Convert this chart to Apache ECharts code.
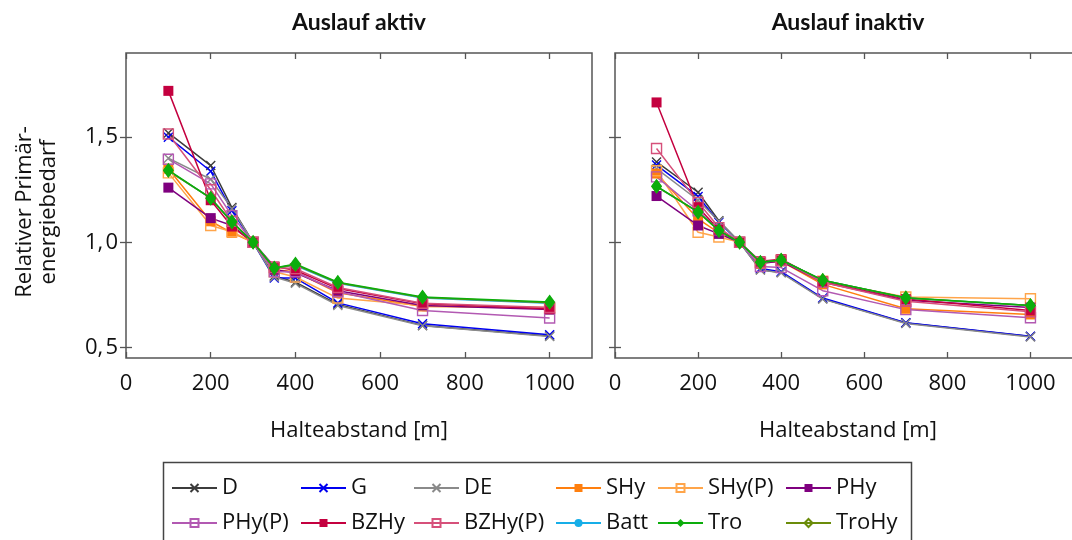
<!DOCTYPE html>
<html>
<head>
<meta charset="utf-8">
<script src="https://cdn.jsdelivr.net/npm/echarts@6/dist/echarts.min.js"></script>
<style>
  html, body { margin: 0; padding: 0; background: #fff; }
  #chart { width: 1072px; height: 540px; }
</style>
</head>
<body>
<div id="chart"></div>
<script>
// Halteabstand in Metern
const halteabstand = [100, 200, 250, 300, 350, 400, 500, 700, 1000];

// Auslauf aktiv
const aktivD      = [1.52, 1.365, 1.165, 1.0, 0.84, 0.81, 0.705, 0.605, 0.555];
const aktivG      = [1.50, 1.338, 1.15, 1.0, 0.83, 0.83, 0.712, 0.613, 0.56];
const aktivDE     = [1.40, 1.30, 1.16, 1.0, 0.835, 0.805, 0.70, 0.603, 0.552];
const aktivSHy    = [1.35, 1.10, 1.045, 1.0, 0.87, 0.86, 0.76, 0.695, 0.69];
const aktivSHyP   = [1.33, 1.08, 1.05, 1.0, 0.86, 0.835, 0.735, 0.70, 0.685];
const aktivPHy    = [1.26, 1.115, 1.08, 1.0, 0.87, 0.855, 0.77, 0.70, 0.68];
const aktivPHyP   = [1.395, 1.278, 1.127, 1.0, 0.86, 0.86, 0.765, 0.676, 0.64];
const aktivBZHy   = [1.72, 1.20, 1.075, 1.0, 0.885, 0.867, 0.78, 0.708, 0.684];
const aktivBZHyP  = [1.515, 1.25, 1.10, 1.0, 0.88, 0.875, 0.785, 0.71, 0.69];
const aktivBatt   = [1.34, 1.21, 1.095, 1.0, 0.88, 0.89, 0.805, 0.735, 0.71];
const aktivTro    = [1.343, 1.21, 1.098, 1.0, 0.878, 0.897, 0.81, 0.74, 0.716];
const aktivTroHy  = [1.34, 1.21, 1.095, 1.0, 0.877, 0.893, 0.808, 0.738, 0.713];

// Auslauf inaktiv
const inaktivD     = [1.382, 1.238, 1.103, 1.0, 0.87, 0.857, 0.732, 0.616, 0.552];
const inaktivG     = [1.367, 1.218, 1.095, 1.0, 0.875, 0.86, 0.735, 0.618, 0.553];
const inaktivDE    = [1.35, 1.20, 1.10, 1.0, 0.868, 0.855, 0.73, 0.614, 0.55];
const inaktivSHy   = [1.327, 1.111, 1.045, 1.0, 0.90, 0.91, 0.80, 0.684, 0.657];
const inaktivSHyP  = [1.34, 1.048, 1.025, 1.0, 0.90, 0.915, 0.815, 0.74, 0.732];
const inaktivPHy   = [1.22, 1.08, 1.04, 1.0, 0.90, 0.91, 0.81, 0.725, 0.69];
const inaktivPHyP  = [1.311, 1.15, 1.06, 1.0, 0.885, 0.88, 0.77, 0.68, 0.641];
const inaktivBZHy  = [1.665, 1.167, 1.06, 1.0, 0.91, 0.92, 0.815, 0.73, 0.676];
const inaktivBZHyP = [1.446, 1.19, 1.07, 1.0, 0.905, 0.915, 0.81, 0.72, 0.67];
const inaktivBatt  = [1.265, 1.145, 1.056, 1.0, 0.905, 0.915, 0.82, 0.735, 0.70];
const inaktivTro   = [1.267, 1.143, 1.056, 1.0, 0.905, 0.916, 0.82, 0.736, 0.70];
const inaktivTroHy = [1.265, 1.145, 1.055, 1.0, 0.905, 0.915, 0.82, 0.735, 0.70];

// Achsenbeschriftung
const xTicks = [0, 200, 400, 600, 800, 1000];
const yTicks = [0.5, 1.0, 1.5];
const panelTitles = ['Auslauf aktiv', 'Auslauf inaktiv'];
const xAxisTitle = 'Halteabstand [m]';
const yAxisTitle = 'Relativer Primär-\nenergiebedarf';

const seriesNames = ['D', 'G', 'DE', 'SHy', 'SHy(P)', 'PHy', 'PHy(P)', 'BZHy', 'BZHy(P)', 'Batt', 'Tro', 'TroHy'];
const aktivValues = [aktivD, aktivG, aktivDE, aktivSHy, aktivSHyP, aktivPHy, aktivPHyP, aktivBZHy, aktivBZHyP, aktivBatt, aktivTro, aktivTroHy];
const inaktivValues = [inaktivD, inaktivG, inaktivDE, inaktivSHy, inaktivSHyP, inaktivPHy, inaktivPHyP, inaktivBZHy, inaktivBZHyP, inaktivBatt, inaktivTro, inaktivTroHy];

const CROSS = 'path://M0,0L10,10M10,0L0,10';
const styles = {
  'D':       { color: '#3c3c3c', symbol: CROSS, size: 9, open: 'cross' },
  'G':       { color: '#0000f0', symbol: CROSS, size: 9, open: 'cross' },
  'DE':      { color: '#8a8a8a', symbol: CROSS, size: 9, open: 'cross' },
  'SHy':     { color: '#ff7f0e', symbol: 'rect', size: 10 },
  'SHy(P)':  { color: '#ffa54a', symbol: 'rect', size: 10, open: true },
  'PHy':     { color: '#7f007f', symbol: 'rect', size: 10 },
  'PHy(P)':  { color: '#b259b2', symbol: 'rect', size: 10, open: true },
  'BZHy':    { color: '#c4003f', symbol: 'rect', size: 10 },
  'BZHy(P)': { color: '#d6507a', symbol: 'rect', size: 10, open: true },
  'Batt':    { color: '#16aee8', symbol: 'circle', size: 8 },
  'Tro':     { color: '#0cad0c', symbol: 'diamond', size: [11, 15] },
  'TroHy':   { color: '#6b8c0a', symbol: 'diamond', size: [9, 12], open: true }
};

const FONT = 'Open Sans';
const grids = [
  { left: 126, top: 53, width: 466, height: 305 },
  { left: 615, top: 53, width: 466, height: 305 }
];

const frameColor = '#555';
const xAxes = [], yAxes = [];
grids.forEach((g, i) => {
  xAxes.push({
    type: 'value', gridIndex: i, min: 0, max: 1100, position: 'bottom',
    axisLine: { show: false }, splitLine: { show: false },
    axisTick: { inside: true, length: 6, customValues: xTicks, lineStyle: { color: frameColor, width: 1.3 } },
    axisLabel: { customValues: xTicks, margin: 15, fontFamily: FONT, fontSize: 22, color: '#111',
      formatter: v => String(v) }
  });
  xAxes.push({
    type: 'value', gridIndex: i, min: 0, max: 1100, position: 'top',
    axisLine: { show: false }, splitLine: { show: false },
    axisTick: { inside: true, length: 6, customValues: xTicks, lineStyle: { color: frameColor, width: 1.3 } },
    axisLabel: { show: false }
  });
  yAxes.push({
    type: 'value', gridIndex: i, min: 0.45, max: 1.9, position: 'left',
    axisLine: { show: false }, splitLine: { show: false },
    axisTick: { inside: true, length: 6, customValues: yTicks, lineStyle: { color: frameColor, width: 1.3 } },
    axisLabel: {
      show: i === 0, customValues: yTicks, margin: 8, fontFamily: FONT, fontSize: 22, color: '#111',
      formatter: v => v.toFixed(1).replace('.', ',\u200A')
    }
  });
  yAxes.push({
    type: 'value', gridIndex: i, min: 0.45, max: 1.9, position: 'right',
    axisLine: { show: false }, splitLine: { show: false },
    axisTick: { inside: true, length: 6, customValues: yTicks, lineStyle: { color: frameColor, width: 1.3 } },
    axisLabel: { show: false }
  });
});

function makeSeries(panel, values) {
  return seriesNames.map((name, k) => {
    const s = styles[name];
    const itemStyle = s.open === 'cross'
      ? { color: s.color, borderColor: s.color, borderWidth: 1.4 }
      : s.open
        ? { color: 'rgba(255,255,255,0)', borderColor: s.color, borderWidth: 1.4 }
        : { color: s.color };
    return {
      name, type: 'line',
      xAxisIndex: panel * 2, yAxisIndex: panel * 2,
      data: halteabstand.map((x, j) => [x, values[k][j]]),
      symbol: s.symbol, symbolSize: s.size, showAllSymbol: true,
      color: s.color,
      lineStyle: { color: s.color, width: 1.5 },
      itemStyle,
      z: name === 'Tro' ? 4 : 2,
      emphasis: { disabled: true },
      animation: false
    };
  });
}

// Legende: zwei Zeilen mit je sechs Einträgen
const legendCols = [171, 300, 413, 555, 657, 785];
const legendRows = [477, 512];
const legends = seriesNames.map((name, k) => ({
  data: [name],
  left: legendCols[k % 6],
  top: legendRows[Math.floor(k / 6)],
  itemWidth: 45, itemHeight: 10, itemGap: 0,
  textStyle: { fontFamily: FONT, fontSize: 22, color: '#111', padding: [0, 0, 0, 0] },
  padding: 0,
  selectedMode: false
}));

const graphics = [
  { type: 'rect', shape: { x: grids[0].left, y: grids[0].top, width: grids[0].width, height: grids[0].height },
    style: { fill: 'none', stroke: frameColor, lineWidth: 1.5 }, z: 10 },
  { type: 'rect', shape: { x: grids[1].left, y: grids[1].top, width: grids[1].width, height: grids[1].height },
    style: { fill: 'none', stroke: frameColor, lineWidth: 1.5 }, z: 10 },
  { type: 'rect', shape: { x: 163.5, y: 462.5, width: 748, height: 100 },
    style: { fill: 'none', stroke: '#444', lineWidth: 1.5 }, z: 10 }
];
grids.forEach((g, i) => {
  graphics.push({
    type: 'text', x: g.left + 233, y: 23,
    style: { text: panelTitles[i], font: 'bold 23px Lato', fill: '#111', align: 'center', verticalAlign: 'middle' }
  });
  graphics.push({
    type: 'text', x: g.left + 233, y: 431,
    style: { text: xAxisTitle, font: '22px "Open Sans"', fill: '#111', align: 'center', verticalAlign: 'middle' }
  });
});
graphics.push({
  type: 'text', x: 37, y: 212, rotation: Math.PI / 2,
  style: { text: yAxisTitle, font: '22px "Open Sans"', fill: '#111', align: 'center', verticalAlign: 'middle', lineHeight: 24 }
});

const chart = echarts.init(document.getElementById('chart'), null, { renderer: 'canvas' });
chart.setOption({
  animation: false,
  backgroundColor: '#fff',
  grid: grids,
  xAxis: xAxes,
  yAxis: yAxes,
  legend: legends,
  graphic: graphics,
  series: makeSeries(0, aktivValues).concat(makeSeries(1, inaktivValues))
});
</script>
</body>
</html>
